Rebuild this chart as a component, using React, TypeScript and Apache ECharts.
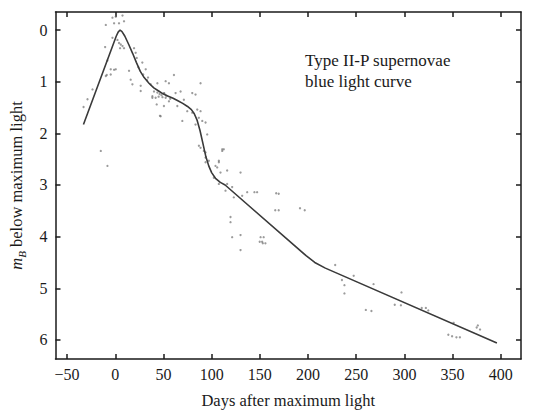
import React, { useEffect, useRef } from "react";
import * as echarts from "echarts";

const xTicks = [-50, 0, 50, 100, 150, 200, 250, 300, 350, 400];
const yTicks = [0, 1, 2, 3, 4, 5, 6];

const curveDays = [-33, 1, 3, 5, 7, 10, 14, 18, 22, 26, 30, 35, 40, 45, 50, 55, 60, 65, 70, 75, 79, 82, 85, 88, 91, 94, 97, 100, 104, 109, 114, 198, 207, 218, 396];
const curveMag = [1.83, 0.12, 0.04, 0.0, 0.03, 0.12, 0.28, 0.45, 0.63, 0.8, 0.92, 1.03, 1.12, 1.18, 1.24, 1.28, 1.32, 1.37, 1.42, 1.48, 1.54, 1.62, 1.75, 1.95, 2.2, 2.45, 2.63, 2.76, 2.87, 2.95, 3.0, 4.37, 4.5, 4.61, 6.06];

const scatterDays = [
  -2.9, 0.5, 7.5, 9.1, 3.9, -9.8, -1.2, 2.3, 3.9, 5.7, 7.5, 9.1, 5, -2.9, -10.5, -8.1, -4.7, 0.5, -9.8, -4.7,
  14.3, 16, 17.8, 26.4, 26.4, 19.5, 21.2, 22.3, 28.1, 31.6, 34, 36.7, 38.5, 43.7, 43, -23.6, -28.8, -32.9, 46.4,
  -15, -8.1, -8.8, -1.2,
  43.7, 52.3, 55.7, 60.9, 88.5, 40.2, 50.5, 62.6, 67.8, 41.9, 52.3, 55.7, 38.5, 71.2, 79.9, 83.3, 47.1, 50.5, 64.4,
  69.6, 74.7, 79.9, 85.1, 88.5, 86.7, 90.3, 83.3, 93.7, 95.4, 88.5, 91.9, 111, 93.7, 107.5, 104,
  48, 49, 51, 53, 46, 45, 57, 33, 29, 24,
  86.8, 93.7, 93.7, 97.1, 107.5, 105.8, 111, 116.1, 130, 109.2, 102.3, 107.5, 116.1, 121.3, 114.4, 123, 131.7, 136.9,
  147.2, 169.6, 119.6, 119.6, 169.6, 121.3, 130, 154, 152.4, 155.8, 130, 112.6,
  144.4, 167, 166, 191.7, 196.6, 150.8, 149.9, 153.1, 228.2, 247.4, 235.2, 237.8, 237.8, 268, 265.8, 297, 296.4,
  322.3, 324.8, 351.1, 349.5, 357.6, 376.2, 378.5, 260, 290, 318, 345.6, 354, 375
];
const scatterMag = [
  -0.24, -0.26, -0.28, -0.17, -0.13, -0.1, -0.13, 0.19, 0.25, 0.28, 0.31, 0.35, 0.35, 0.15, 0.33, 0.59, 0.76, 0.76, 0.89, 0.86,
  0.79, 0.96, 1.05, 1.08, 1.18, 0.35, 0.44, 0.54, 0.63, 0.76, 0.92, 1.05, 1.28, 1.21, 1.44, 1.15, 1.34, 1.49, 1.66,
  2.34, 2.63, 0.87, 0.77,
  1.03, 0.99, 1.03, 0.87, 1.03, 1.19, 1.22, 1.22, 1.19, 1.31, 1.31, 1.38, 1.31, 1.35, 1.22, 1.25, 1.67, 1.47, 1.47,
  1.76, 1.57, 1.6, 1.54, 1.57, 1.7, 1.76, 1.83, 1.79, 2.02, 2.28, 2.34, 2.31, 2.47, 2.53, 2.63,
  1.26, 1.3, 1.23, 1.27, 1.24, 1.29, 1.33, 0.97, 0.86, 0.72,
  2.24, 2.37, 2.56, 2.53, 2.56, 2.66, 2.34, 2.72, 2.76, 2.76, 2.86, 2.98, 2.98, 3.04, 3.11, 3.24, 3.21, 3.14,
  3.14, 3.17, 3.62, 3.72, 3.49, 4.01, 3.97, 4.01, 4.1, 4.13, 4.26, 2.31,
  3.14, 3.16, 3.49, 3.45, 3.49, 4.01, 4.1, 4.13, 4.55, 4.76, 4.84, 4.94, 5.1, 4.92, 5.44, 5.08, 5.33,
  5.38, 5.43, 5.67, 5.93, 5.95, 5.72, 5.8, 5.42, 5.32, 5.38, 5.9, 5.95, 5.76
];

const FONT = "Liberation Serif";
const INK = "#1a1a1a";

export default function App() {
  const ref = useRef<HTMLDivElement>(null);
  useEffect(() => {
    document.body.style.margin = "0";
    const chart = echarts.init(ref.current!, null, { renderer: "svg" });
    const curve = curveDays.map((d, i) => [d, curveMag[i]]);
    const pts = scatterDays.map((d, i) => [d, scatterMag[i]]);
    const axisLine = { show: true, onZero: false, lineStyle: { color: INK, width: 1.5 } };
    const tick = (vals: number[]) => ({ show: true, inside: true, length: 5, customValues: vals, lineStyle: { color: INK, width: 1.5 } });
    const fmt = (v: number) => String(v).replace("-", "\u2212");
    chart.setOption({
      animation: false,
      backgroundColor: "#fff",
      textStyle: { fontFamily: FONT },
      grid: { left: 55, right: 24, top: 12, bottom: 53, containLabel: false },
      xAxis: [
        {
          type: "value", position: "bottom", min: -62, max: 421,
          axisLine, splitLine: { show: false }, axisTick: tick(xTicks),
          axisLabel: { show: true, customValues: xTicks, formatter: fmt, fontFamily: FONT, fontSize: 16, color: INK, margin: 7 },
          name: "Days after maximum light", nameLocation: "middle", nameGap: 33,
          nameTextStyle: { fontFamily: FONT, fontSize: 16.5, color: INK },
        },
        {
          type: "value", position: "top", min: -62, max: 421,
          axisLine, splitLine: { show: false }, axisTick: tick(xTicks),
          axisLabel: { show: false },
        },
      ],
      yAxis: [
        {
          type: "value", position: "left", inverse: true, min: -0.35, max: 6.37,
          axisLine, splitLine: { show: false }, axisTick: tick(yTicks),
          axisLabel: { show: true, customValues: yTicks, fontFamily: FONT, fontSize: 16, color: INK, margin: 8 },
          name: "{i|m}{s|B} below maximum light", nameLocation: "middle", nameGap: 28, nameRotate: 90,
          nameTextStyle: {
            fontFamily: FONT, fontSize: 16.5, color: INK,
            rich: {
              i: { fontFamily: FONT, fontSize: 16.5, fontStyle: "italic", color: INK, lineHeight: 22, verticalAlign: "middle" },
              s: { fontFamily: FONT, fontSize: 11, fontStyle: "italic", color: INK, lineHeight: 22, verticalAlign: "bottom" },
              n: { fontFamily: FONT, fontSize: 16.5, color: INK, lineHeight: 22, verticalAlign: "middle" },
            },
          },
        },
        {
          type: "value", position: "right", inverse: true, min: -0.35, max: 6.37,
          axisLine, splitLine: { show: false }, axisTick: tick(yTicks),
          axisLabel: { show: false },
        },
      ],
      graphic: [
        {
          type: "text", left: 305, top: 50,
          style: { text: "Type II-P supernovae\nblue light curve", fontFamily: FONT, fontSize: 17, lineHeight: 21, fill: INK },
        },
      ],
      series: [
        {
          type: "scatter", xAxisIndex: 0, yAxisIndex: 0, data: pts,
          symbolSize: 2.3, itemStyle: { color: "#707070", opacity: 0.7 }, silent: true,
        },
        {
          type: "line", xAxisIndex: 0, yAxisIndex: 0, data: curve, showSymbol: false, smooth: false,
          lineStyle: { color: "#3a3a3a", width: 1.6 },
        },
      ],
    });
    return () => chart.dispose();
  }, []);
  return <div ref={ref} style={{ width: 545, height: 414 }} />;
}
